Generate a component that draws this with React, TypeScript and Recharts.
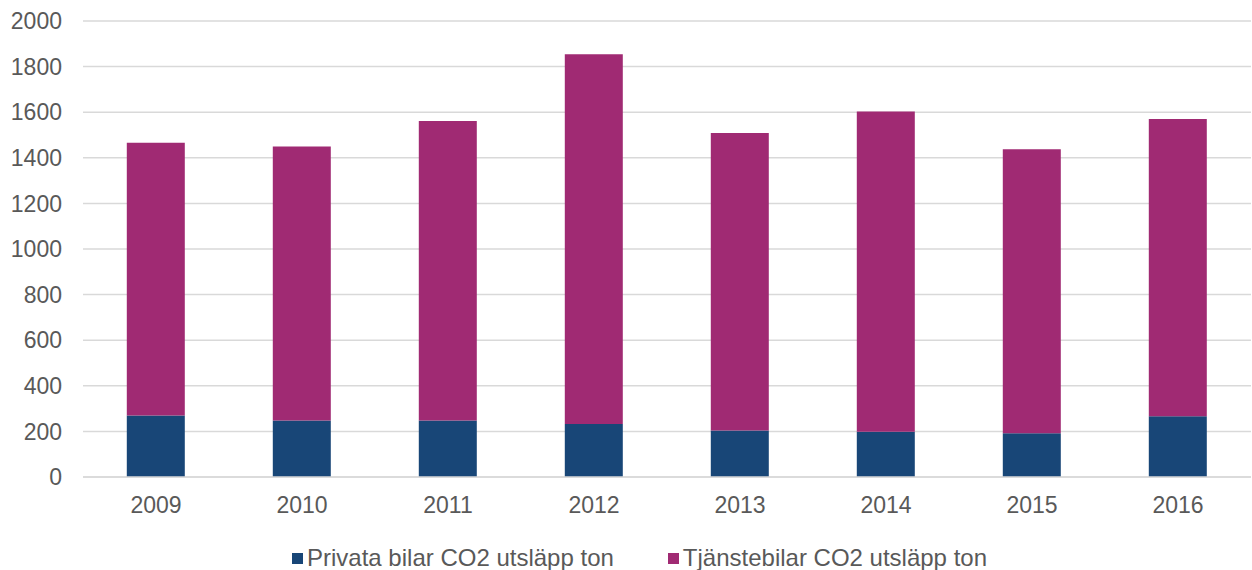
import React from 'react';
import { BarChart, Bar, XAxis, YAxis, CartesianGrid, Legend } from 'recharts';

const years = ['2009', '2010', '2011', '2012', '2013', '2014', '2015', '2016'];
const privata = [270, 248, 248, 233, 204, 198, 192, 266];
const tjanste = [1196, 1202, 1313, 1621, 1305, 1405, 1245, 1304];
const yTicks = [0, 200, 400, 600, 800, 1000, 1200, 1400, 1600, 1800, 2000];

const BLUE = '#184677';
const MAGENTA = '#a02a73';
const FONT = '"Liberation Sans", Arial, sans-serif';

const data = years.map((y, i) => ({ year: y, privata: privata[i], tjanste: tjanste[i] }));

const legendItems = [
    { label: 'Privata bilar CO2 utsläpp ton', color: BLUE },
    { label: 'Tjänstebilar CO2 utsläpp ton', color: MAGENTA },
];

const renderLegend = () => (
    <div style={{ display: 'flex', justifyContent: 'center', gap: 54, paddingTop: 22, paddingLeft: 28, fontFamily: FONT, fontSize: 24, color: '#595959' }}>
        {legendItems.map((it) => (
            <div key={it.label} style={{ display: 'flex', alignItems: 'center' }}>
                <span style={{ display: 'inline-block', width: 11, height: 11, background: it.color, marginRight: 4 }} />
                <span>{it.label}</span>
            </div>
        ))}
    </div>
);

export default function App() {
    return (
        <div style={{ position: 'absolute', left: 0, top: 0, background: '#fff' }}>
            <BarChart
                width={1252}
                height={570}
                data={data}
                margin={{ top: 21, right: 1, bottom: 0, left: 0 }}
                barCategoryGap="30%"
            >
                <CartesianGrid vertical={false} stroke="#d9d9d9" strokeWidth={1.5} />
                <XAxis
                    dataKey="year"
                    height={45}
                    tickLine={false}
                    axisLine={{ stroke: '#d9d9d9', strokeWidth: 1.5 }}
                    tickSize={0}
                    tickMargin={20}
                    tick={{ fill: '#595959', fontSize: 23, fontFamily: FONT }}
                />
                <YAxis
                    width={83}
                    domain={[0, 2000]}
                    ticks={yTicks}
                    tickLine={false}
                    axisLine={false}
                    tickSize={0}
                    tickMargin={21}
                    tick={{ fill: '#595959', fontSize: 23, fontFamily: FONT }}
                />
                <Legend verticalAlign="bottom" height={48} content={renderLegend} />
                <Bar dataKey="privata" stackId="a" fill={BLUE} isAnimationActive={false} />
                <Bar dataKey="tjanste" stackId="a" fill={MAGENTA} isAnimationActive={false} />
            </BarChart>
        </div>
    );
}
